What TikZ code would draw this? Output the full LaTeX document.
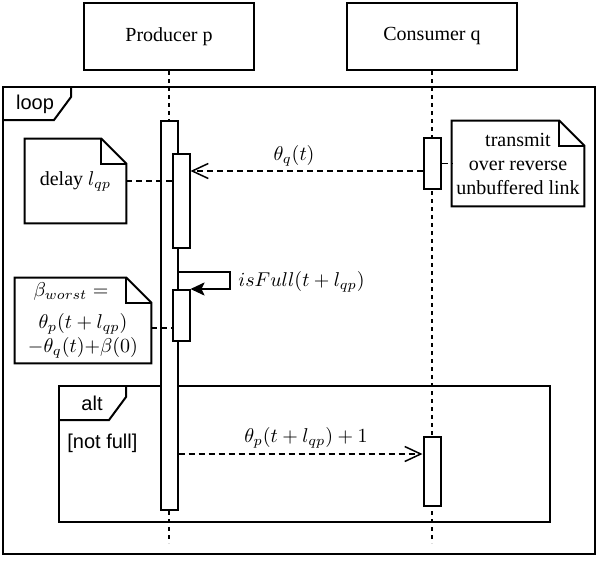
\documentclass[tikz,border=0pt]{standalone}
\usepackage[no-math]{fontspec}
\setmainfont{Liberation Serif}
\setsansfont{Liberation Sans}
\usetikzlibrary{arrows.meta,positioning,calc}

% folded-corner outline round a note node
\newcommand{\dogear}[1]{%
  \draw[solidline] (#1.north west) -- ([xshift=-12.5pt]#1.north east)
    -- ([yshift=-12.5pt]#1.north east) -- (#1.south east)
    -- (#1.south west) -- cycle;
  \draw[solidline] ([xshift=-12.5pt]#1.north east) |- ([yshift=-12.5pt]#1.north east);}

\begin{document}
\begin{tikzpicture}[
  x=0.5pt, y=-0.5pt,
  txt/.style={font=\fontsize{10}{12}\selectfont},
  mth/.style={font=\fontsize{10}{12}\selectfont, inner sep=1pt},
  actor/.style={draw, line width=1pt, minimum width=85pt, minimum height=33.5pt, txt},
  bar/.style={draw, line width=1pt, fill=white, minimum width=8.5pt, inner sep=0pt},
  frame/.style={draw, line width=1pt, inner sep=0pt},
  tag/.style={font=\sffamily\fontsize{10}{12}\selectfont, inner sep=1pt},
  note/.style={align=center, inner sep=0pt, txt},
  solidline/.style={line width=1pt},
  lifeline/.style={line width=0.75pt, dash pattern=on 2pt off 2pt},
  msg/.style={line width=0.75pt, dash pattern=on 3pt off 2pt,
              -{Straight Barb[length=8pt,width=7.5pt]}},
  self/.style={line width=1pt, -{Stealth[length=7pt,width=6.5pt,inset=1.5pt]}},
  link/.style={line width=0.75pt, dash pattern=on 3pt off 2pt},
]
\useasboundingbox (0,0) rectangle (598,562);

%% ---- participants --------------------------------------------------------
\node[actor] (prod) at (169,36.5) {Producer p};
\node[actor] (cons) at (432,36.5) {Consumer q};

%% ---- combined fragments --------------------------------------------------
\node[frame, minimum width=296pt, minimum height=233.5pt] (loop) at (299,320.5) {};
\draw[solidline] ([yshift=-17pt]loop.north west) -- ++(52,0) -- ++(17,-23) -- ++(0,-11);
\node[tag] (looplbl) at (35,104) {loop};

\node[frame, minimum width=245.5pt, minimum height=68pt] (alt) at (304.5,454) {};
\draw[solidline] ([yshift=-17.5pt]alt.north west) -- ++(51,0) -- ++(17,-23) -- ++(0,-12);
\node[tag] (altlbl) at (92,403) {alt};
\node[tag, anchor=west] (guard) at (65,443) {[not full]};

%% ---- lifelines -----------------------------------------------------------
\coordinate (prodEnd) at (169,543);
\coordinate (consEnd) at (432,543);
\draw[lifeline] (prod.south) -- (prodEnd);
\draw[lifeline] (cons.south) -- (consEnd);

%% ---- activations ---------------------------------------------------------
\node[bar, minimum height=194.5pt] (pbar) at (169,315.5) {};
\node[bar, minimum height=47pt] (pact1) at (181,201) {};
\node[bar, minimum height=25.5pt] (pact2) at (181,315.5) {};
\node[bar, minimum height=25.5pt] (qact1) at (432,163.5) {};
\node[bar, minimum height=34.5pt] (qact2) at (432,471.5) {};

%% ---- notes ---------------------------------------------------------------
\node[note, minimum width=50.5pt, minimum height=42pt] (delay) at (75.5,181) {delay $l_{qp}$};
\dogear{delay}
\node[note, minimum width=66pt, minimum height=42.5pt] (xmit) at (518,163.5)
  {transmit\\over reverse\\unbuffered link};
\dogear{xmit}
\node[note, minimum width=68pt, minimum height=42.5pt] (worst) at (83,320.5)
  {$\beta_{worst} =$\hspace*{12pt}\\[4pt]$\theta_p(t+l_{qp})$\\$-\theta_q(t){+}\beta(0)$};
\dogear{worst}

\draw[link] (delay.east) -- (delay.east -| pact1.west);
\draw[link] (qact1.east) -- (xmit.west);
\path (worst.east) ++(0,7.5) coordinate (worstR);
\draw[link] (worstR) -- (worstR -| pact2.west);

%% ---- messages ------------------------------------------------------------
\path (qact1.west) ++(0,7.5) coordinate (thq);
\draw[msg] (thq) -- (thq -| pact1.east);
\node[mth] (thqlbl) at (294,156) {$\theta_q(t)$};

\path (pbar.east |- pact2.north) ++(0,-17) coordinate (fullA);
\draw[self] (fullA) -- ++(51,0) -- ++(0,17) -- (pact2.north east);
\node[mth, anchor=west] (fulllbl) at (236,282) {$isFull(t+l_{qp})$};

\path (qact2.west) ++(0,-17.5) coordinate (thp);
\draw[msg] (thp -| pbar.east) -- (thp);
\node[mth] (thplbl) at (306,438) {$\theta_p(t+l_{qp})+1$};

\end{tikzpicture}
\end{document}
